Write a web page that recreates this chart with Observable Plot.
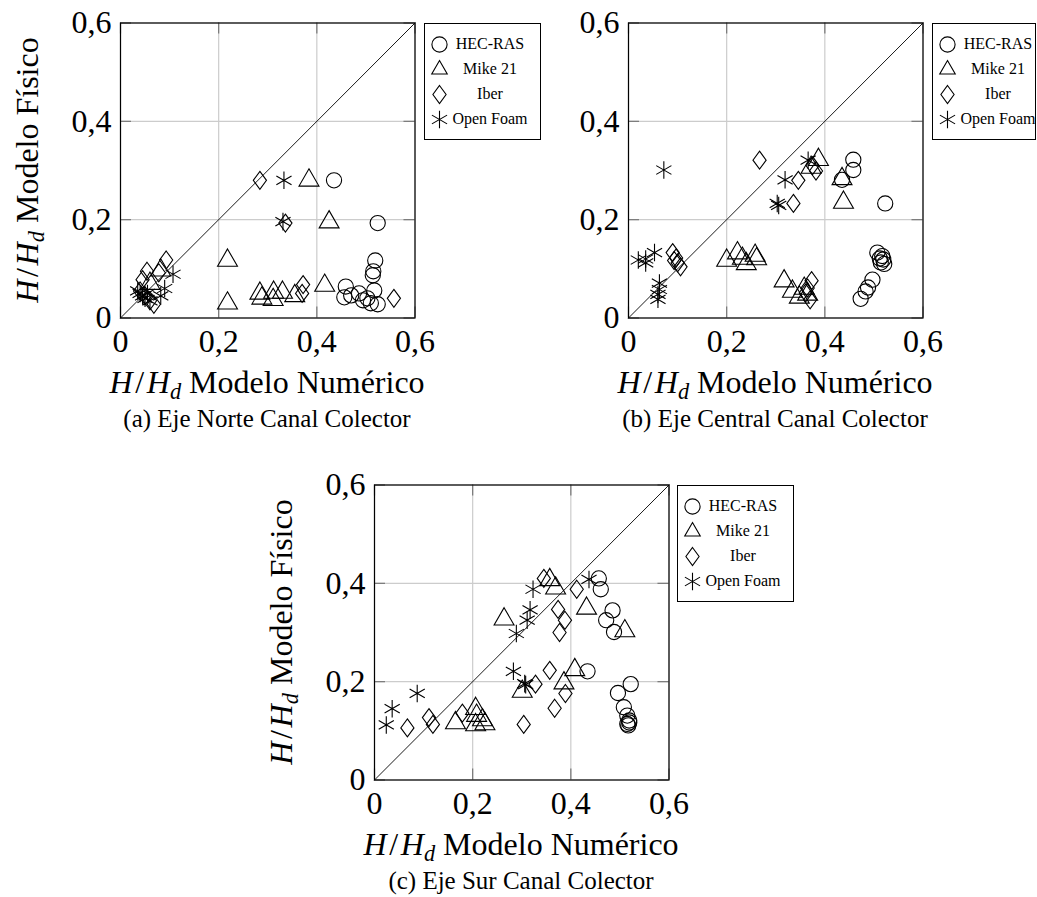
<!DOCTYPE html>
<html>
<head>
<meta charset="utf-8">
<script src="https://cdn.jsdelivr.net/npm/d3@7"></script>
<script src="https://cdn.jsdelivr.net/npm/@observablehq/plot@0.6"></script>
<style>
  html, body { margin: 0; padding: 0; background: #fff; }
  #root { position: relative; width: 1037px; height: 897px; overflow: hidden; background: #fff;
          font-family: "Liberation Serif", "Times New Roman", serif; color: #000; }
  .abs { position: absolute; }
  .xlab { font-size: 32px; line-height: 32px; white-space: nowrap; transform: translateX(-50%); }
  .cap { font-size: 25px; line-height: 25px; white-space: nowrap; transform: translateX(-50%); }
  .ylab { font-size: 32px; line-height: 32px; white-space: nowrap; transform: translate(-50%, -50%) rotate(-90deg); }
  .legend { border: 1px solid #000; background: #fff; box-sizing: border-box; font-size: 16px; }
  .legend .row { position: absolute; left: 0; height: 25px; width: 117px; }
  .legend svg { position: absolute; left: 0; top: 0; overflow: visible; }
  .legend .txt { position: absolute; top: 2px; line-height: 20px; white-space: nowrap; transform: translateX(-50%); }
  sub { font-size: 70%; vertical-align: -0.25em; line-height: 0; }
</style>
</head>
<body>
<div id="root"></div>
<script>
// ---------- data ----------
const tickValues = [0, 0.2, 0.4, 0.6];
const tickLabels = ["0", "0,2", "0,4", "0,6"];
const diagonal = [0, 0.6];
const seriesNames = ["HEC-RAS", "Mike 21", "Iber", "Open Foam"];
const captions = ["(a) Eje Norte Canal Colector", "(b) Eje Central Canal Colector", "(c) Eje Sur Canal Colector"];

// (a) Eje Norte
const hecRasA = [[0.435,0.28],[0.524,0.193],[0.519,0.117],[0.515,0.095],[0.514,0.087],[0.517,0.056],[0.459,0.064],[0.456,0.042],[0.47,0.046],[0.486,0.05],[0.494,0.036],[0.503,0.04],[0.51,0.03],[0.524,0.028]];
const mike21A = [[0.384,0.28],[0.425,0.195],[0.218,0.117],[0.218,0.03],[0.284,0.05],[0.288,0.04],[0.312,0.052],[0.311,0.037],[0.33,0.052],[0.355,0.045],[0.416,0.066],[0.082,0.097],[0.06,0.07]];
const iberA = [[0.284,0.28],[0.336,0.193],[0.372,0.068],[0.37,0.05],[0.557,0.04],[0.093,0.118],[0.054,0.095],[0.078,0.092],[0.045,0.078],[0.068,0.028],[0.05,0.045],[0.04,0.055],[0.06,0.035]];
const openFoamA = [[0.333,0.28],[0.331,0.196],[0.107,0.089],[0.09,0.06],[0.082,0.045],[0.04,0.05],[0.045,0.045],[0.05,0.04],[0.055,0.05],[0.06,0.035],[0.035,0.055]];

// (b) Eje Central
const hecRasB = [[0.458,0.322],[0.458,0.301],[0.435,0.281],[0.523,0.233],[0.507,0.133],[0.517,0.126],[0.519,0.119],[0.514,0.113],[0.521,0.11],[0.512,0.121],[0.497,0.078],[0.488,0.062],[0.483,0.054],[0.473,0.039]];
const mike21B = [[0.387,0.322],[0.372,0.306],[0.435,0.283],[0.438,0.235],[0.2,0.117],[0.222,0.132],[0.232,0.121],[0.24,0.11],[0.258,0.127],[0.261,0.12],[0.317,0.075],[0.334,0.054],[0.348,0.042],[0.358,0.06],[0.365,0.048]];
const iberB = [[0.267,0.321],[0.382,0.299],[0.375,0.31],[0.346,0.28],[0.336,0.233],[0.09,0.133],[0.097,0.122],[0.1,0.112],[0.106,0.104],[0.093,0.117],[0.373,0.076],[0.365,0.061],[0.361,0.051],[0.37,0.037]];
const openFoamB = [[0.072,0.301],[0.366,0.321],[0.319,0.281],[0.303,0.233],[0.306,0.229],[0.02,0.118],[0.035,0.12],[0.053,0.133],[0.035,0.112],[0.063,0.071],[0.063,0.058],[0.06,0.048],[0.06,0.038]];

// (c) Eje Sur
const hecRasC = [[0.457,0.41],[0.461,0.388],[0.485,0.345],[0.472,0.325],[0.488,0.301],[0.434,0.221],[0.522,0.195],[0.496,0.177],[0.508,0.148],[0.515,0.131],[0.519,0.121],[0.515,0.114],[0.519,0.117],[0.517,0.111]];
const mike21C = [[0.357,0.407],[0.369,0.39],[0.432,0.349],[0.264,0.327],[0.51,0.303],[0.408,0.224],[0.301,0.18],[0.386,0.197],[0.165,0.116],[0.206,0.145],[0.208,0.131],[0.22,0.122],[0.225,0.114],[0.206,0.112]];
const iberC = [[0.345,0.41],[0.412,0.388],[0.374,0.347],[0.388,0.325],[0.377,0.3],[0.357,0.223],[0.328,0.195],[0.389,0.176],[0.367,0.146],[0.304,0.113],[0.067,0.106],[0.111,0.127],[0.119,0.113],[0.179,0.136]];
const openFoamC = [[0.323,0.388],[0.437,0.408],[0.317,0.346],[0.311,0.325],[0.289,0.298],[0.283,0.221],[0.306,0.196],[0.308,0.194],[0.087,0.176],[0.036,0.145],[0.024,0.112]];

// ---------- symbols ----------
const diamondTall = { draw(ctx) { ctx.moveTo(0, -9); ctx.lineTo(6.6, 0); ctx.lineTo(0, 9); ctx.lineTo(-6.6, 0); ctx.closePath(); } };
const symbolDefs = [
  { symbol: "circle", d3sym: d3.symbolCircle, r: 7.6 },
  { symbol: "triangle", d3sym: d3.symbolTriangle2, r: 7.4 },
  { symbol: diamondTall, d3sym: diamondTall, r: 7 },
  { symbol: "asterisk", d3sym: d3.symbolAsterisk, r: 8.3 }
];
const tickLen = 11 / 490;
const fmt = d => tickLabels[tickValues.indexOf(d)];

const root = document.getElementById("root");

function panel(series, left, top) {
  const mL = 120, mT = 22.5, fw = 294.5, fh = 295;
  const W = 460, H = 365;
  const marks = [
    Plot.gridX({ticks: tickValues, stroke: "#cccccc", strokeOpacity: 1, strokeWidth: 1.2}),
    Plot.gridY({ticks: tickValues, stroke: "#cccccc", strokeOpacity: 1, strokeWidth: 1.2}),
    Plot.ruleX(tickValues, {x: d => d, y1: 0, y2: tickLen, stroke: "#777", strokeWidth: 1.2}),
    Plot.ruleX(tickValues, {x: d => d, y1: 0.6 - tickLen, y2: 0.6, stroke: "#777", strokeWidth: 1.2}),
    Plot.ruleY(tickValues, {y: d => d, x1: 0, x2: tickLen, stroke: "#777", strokeWidth: 1.2}),
    Plot.ruleY(tickValues, {y: d => d, x1: 0.6 - tickLen, x2: 0.6, stroke: "#777", strokeWidth: 1.2}),
    Plot.line(diagonal, {x: d => d, y: d => d, stroke: "#000", strokeWidth: 0.9})
  ];
  series.forEach((data, i) => {
    const s = symbolDefs[i];
    marks.push(Plot.dot(data, {x: d => d[0], y: d => d[1], symbol: s.symbol, r: s.r, stroke: "#000", strokeWidth: 1.1, fill: "none"}));
  });
  marks.push(
    Plot.frame({stroke: "#000", strokeWidth: 1.2}),
    Plot.axisX({ticks: tickValues, tickSize: 0, tickPadding: 11, tickFormat: fmt, label: null}),
    Plot.axisY({ticks: tickValues, tickSize: 0, tickPadding: 9, tickFormat: fmt, label: null})
  );
  const svg = Plot.plot({
    width: W, height: H,
    marginLeft: mL, marginTop: mT, marginRight: W - mL - fw, marginBottom: H - mT - fh,
    x: {domain: [0, 0.6], label: null},
    y: {domain: [0, 0.6], label: null},
    style: {fontFamily: "'Liberation Serif', 'Times New Roman', serif", fontSize: "32px", background: "transparent", color: "#000", overflow: "visible"},
    marks
  });
  svg.style.position = "absolute";
  svg.style.left = (left - mL) + "px";
  svg.style.top = (top - mT) + "px";
  root.appendChild(svg);
}

function legend(left, top, width) {
  const div = document.createElement("div");
  div.className = "abs legend";
  div.style.left = left + "px";
  div.style.top = top + "px";
  div.style.width = width + "px";
  div.style.height = "117px";
  seriesNames.forEach((name, i) => {
    const s = symbolDefs[i];
    const row = document.createElement("div");
    row.className = "row";
    row.style.top = (8 + i * 25) + "px";
    const path = d3.symbol(s.d3sym, Math.PI * s.r * s.r)();
    row.innerHTML = `<svg width="1" height="1"><path transform="translate(14.5,12.5)" d="${path}" fill="none" stroke="#000" stroke-width="1.1"/></svg><div class="txt" style="left:65px">${name}</div>`;
    div.appendChild(row);
  });
  root.appendChild(div);
}

function text(cls, html, x, y) {
  const d = document.createElement("div");
  d.className = "abs " + cls;
  d.style.left = x + "px";
  d.style.top = y + "px";
  d.innerHTML = html;
  root.appendChild(d);
}

const HH = '<i>H</i>\u200a/\u200a<i>H</i><sub><i>d</i></sub>';

panel([hecRasA, mike21A, iberA, openFoamA], 120, 22.5);
panel([hecRasB, mike21B, iberB, openFoamB], 627.5, 22.5);
panel([hecRasC, mike21C, iberC, openFoamC], 374, 484.5);

legend(424, 22.5, 117);
legend(932, 22.5, 104);
legend(677, 484.5, 117);

text("xlab", HH + " Modelo Numérico", 267, 366);
text("xlab", HH + " Modelo Numérico", 775, 366);
text("xlab", HH + " Modelo Numérico", 521, 828);
text("cap", captions[0], 267, 406);
text("cap", captions[1], 775, 406);
text("cap", captions[2], 521, 868);
text("ylab", HH + " Modelo Físico", 27, 170);
text("ylab", HH + " Modelo Físico", 281, 632);
</script>
</body>
</html>
